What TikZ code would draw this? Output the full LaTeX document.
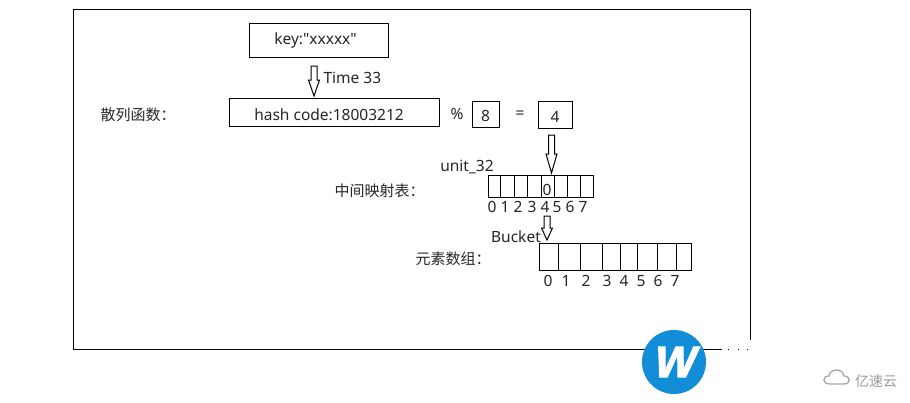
\documentclass[tikz,border=0pt]{standalone}
\usepackage{fontspec}
\setmainfont{Noto Sans}[Ligatures=TeXOff]
\newfontfamily\cjk{Noto Sans CJK SC}
\newfontfamily\badgefont{Liberation Sans}[BoldFeatures={FakeBold=2.5}]
\usetikzlibrary{calc}
\tikzset{
  txt/.style={font=\fontsize{15.5}{17}\selectfont,text=black!85},
  hz/.style={font=\fontsize{15}{17}\selectfont\cjk,text=black!85,anchor=west},
  box/.style={draw=black,txt},
  % hollow down arrow, #1 is the length of its head
  blockarrow/.style={draw=black,fill=white,line join=miter,to path={
    ($(\tikztostart)+(-3,0)$) -- ($(\tikztostart)+(3,0)$) -- ($(\tikztotarget)+(3,-#1)$)
    -- ($(\tikztotarget)+(5.5,-#1)$) -- (\tikztotarget) -- ($(\tikztotarget)+(-5.5,-#1)$)
    -- ($(\tikztotarget)+(-3,-#1)$) -- cycle}}
}
\definecolor{logoblue}{RGB}{18,142,216}
\begin{document}
\begin{tikzpicture}[x=1pt,y=-1pt,line width=1pt]
\tikzstyle{every node}+=[inner sep=0pt]
\useasboundingbox (0,0) rectangle (910,402);
% outer frame, open at the lower right corner
\draw [black] (722,349) -- (73,349) -- (73,9) -- (750,9) -- (750,340);
\fill [black] (728,348.6) rectangle (729,349.4);
\fill [black] (738,348.6) rectangle (739,349.4);
\fill [black] (747,348.6) rectangle (748,349.4);
% key and hash code line
\node [box,minimum width=139pt,minimum height=34pt] (key) at (318.5,40) {key:"xxxxx"\hspace*{6pt}};
\node [box,minimum width=210pt,minimum height=28pt,text height=16pt,text depth=0pt] (hash) at (334,112) {hash code:18003212\hspace*{10pt}};
\node [box,minimum width=27pt,minimum height=26pt,text height=15pt,text depth=0pt] (eight) at (485.5,114) {8};
\node [box,minimum width=34pt,minimum height=27pt,text height=15pt,text depth=0pt] (four) at (555,114.5) {4};
\node [txt] (mod) at (457,114) {\%};
\node [txt] (eq) at (520,115) {=};
\node [hz] (hashlabel) at (100,115) {散列函数：};
\node [txt,anchor=west] (time) at (323,78) {Time 33};
% hollow arrows
\coordinate (hashin) at (314,66);
\coordinate (hashtip) at (314,96);
\coordinate (fourout) at (551.5,135);
\coordinate (fourtip) at (551.5,173);
\coordinate (bucketin) at (547,216);
\coordinate (buckettip) at (547,240);
\draw [blockarrow=16] (hashin) to (hashtip);
\draw [blockarrow=19] (fourout) to (fourtip);
\draw [blockarrow=12] (bucketin) to (buckettip);
% mapping table
\node [txt] (unit) at (467,167) {unit\_32};
\node [hz] (maplabel) at (334,191) {中间映射表：};
\draw [black] (488,175) rectangle (500,197);
\draw [black] (500,175) rectangle (514,197);
\draw [black] (514,175) rectangle (527,197);
\draw [black] (527,175) rectangle (541,197);
\draw [black] (541,175) rectangle (554,197);
\draw [black] (554,175) rectangle (567,197);
\draw [black] (567,175) rectangle (580,197);
\draw [black] (580,175) rectangle (593,197);
\node [txt] (mapval) at (547,190) {0};
\node [txt] (map0) at (492,207) {0};
\node [txt] (map1) at (505,207) {1};
\node [txt] (map2) at (518,207) {2};
\node [txt] (map3) at (532,207) {3};
\node [txt] (map4) at (545,207) {4};
\node [txt] (map5) at (557,207) {5};
\node [txt] (map6) at (570,207) {6};
\node [txt] (map7) at (583,207) {7};
% element array
\node [txt] (bucket) at (516,237) {Bucket};
\node [hz] (arrlabel) at (415,259) {元素数组：};
\draw [black] (539,243) rectangle (558,270);
\draw [black] (558,243) rectangle (580,270);
\draw [black] (580,243) rectangle (602,270);
\draw [black] (602,243) rectangle (620,270);
\draw [black] (620,243) rectangle (637,270);
\draw [black] (637,243) rectangle (657,270);
\draw [black] (657,243) rectangle (676,270);
\draw [black] (676,243) rectangle (691,270);
\node [txt] (arr0) at (548,281) {0};
\node [txt] (arr1) at (566,281) {1};
\node [txt] (arr2) at (586,281) {2};
\node [txt] (arr3) at (607,281) {3};
\node [txt] (arr4) at (624,281) {4};
\node [txt] (arr5) at (641,281) {5};
\node [txt] (arr6) at (658,281) {6};
\node [txt] (arr7) at (675,281) {7};
% badge
\fill [logoblue] (674,362) circle (32);
\node [font=\fontsize{44}{44}\selectfont\badgefont\bfseries,text=white,xslant=0.22,transform shape] (badge) at (676,362) {W};
% cloud mark and its name
\draw [black!35,line width=1.3pt] (830,384) .. controls (822,384) and (822,376) .. (829,376) .. controls (830,368) and (843,368) .. (844,376) .. controls (851,376) and (851,384) .. (844,384) -- cycle;
\node [font=\fontsize{14}{16}\selectfont\cjk,text=black!40] (brand) at (876,381) {亿速云};
\end{tikzpicture}
\end{document}
